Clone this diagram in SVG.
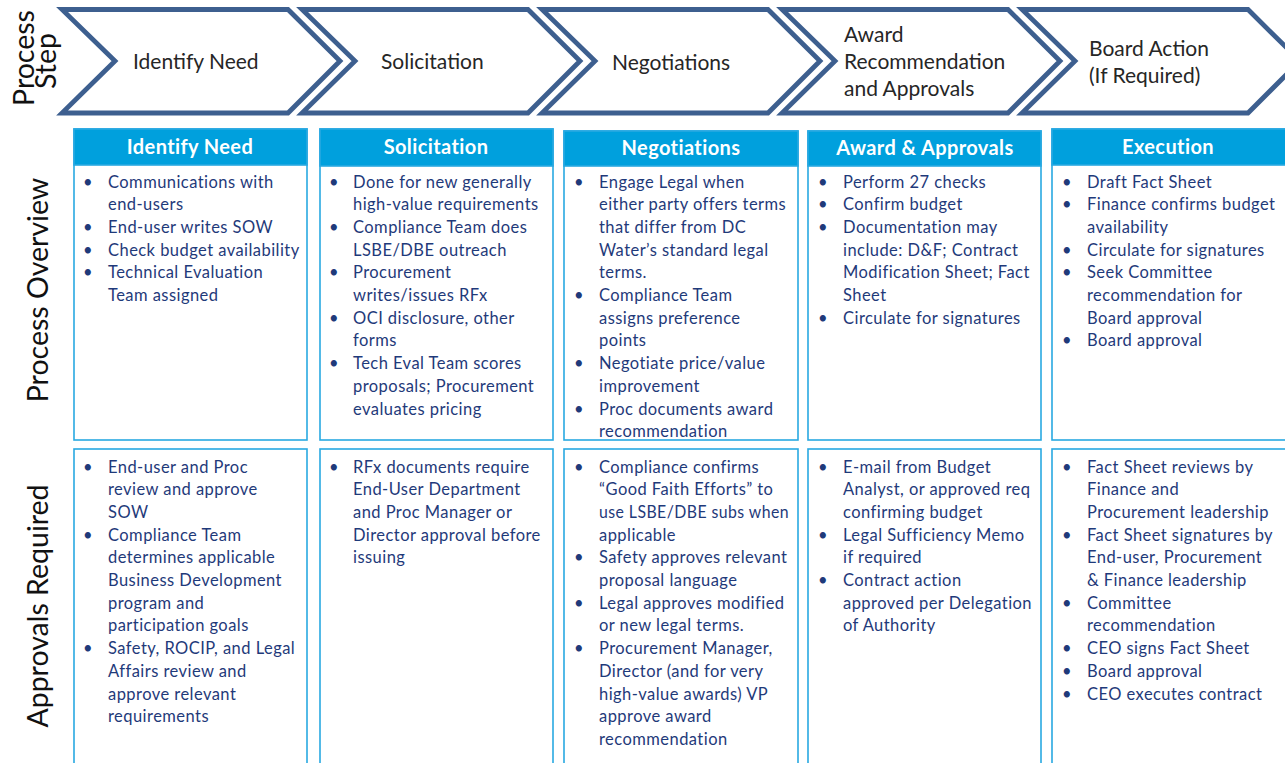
<svg xmlns="http://www.w3.org/2000/svg" width="1285" height="763" viewBox="0 0 1285 763">
<style>
.chev{fill:#ffffff;stroke:#3d5f8f;stroke-width:4.8;stroke-linejoin:miter}
.ct{font-family:Lato,"Liberation Sans",sans-serif;font-size:21px;fill:#262626}
.side{font-family:Lato,"Liberation Sans",sans-serif;font-size:28.5px;fill:#111111;text-anchor:middle}
.box{fill:#ffffff;stroke:#29a9e1;stroke-width:1.6}
.hdr{fill:#00a0dd;stroke:#29a9e1;stroke-width:1.6}
.ht{font-family:Lato,"Liberation Sans",sans-serif;font-size:20px;font-weight:bold;fill:#ffffff;text-anchor:middle;letter-spacing:0.4px}
.b{font-family:Lato,"Liberation Sans",sans-serif;font-size:16.5px;fill:#1f3a7a;letter-spacing:0.45px}
</style>
<rect x="0" y="0" width="1285" height="763" fill="#ffffff"/>

<g id="side-labels">
<text class="side" transform="translate(34,58) rotate(-90)">Process</text>
<text class="side" transform="translate(56,61) rotate(-90)">Step</text>
<text class="side" transform="translate(48,290) rotate(-90)">Process Overview</text>
<text class="side" transform="translate(48,606) rotate(-90)">Approvals Required</text>
</g>

<g id="step-identify">
<polygon class="chev" points="62,9.5 288,9.5 340,61 288,113 62,113 115,61"/>
<text class="ct" x="133" y="69">Identify Need</text>
</g>
<g id="step-solicitation">
<polygon class="chev" points="302,9.5 528,9.5 580,61 528,113 302,113 355,61"/>
<text class="ct" x="381" y="69">Solicitation</text>
</g>
<g id="step-negotiations">
<polygon class="chev" points="542,9.5 768,9.5 820,61 768,113 542,113 595,61"/>
<text class="ct" x="612" y="70">Negotiations</text>
</g>
<g id="step-award">
<polygon class="chev" points="782,9.5 1008,9.5 1060,61 1008,113 782,113 835,61"/>
<text class="ct" x="844" y="42">Award</text>
<text class="ct" x="844" y="69">Recommendation</text>
<text class="ct" x="844" y="96">and Approvals</text>
</g>
<g id="step-board">
<polygon class="chev" points="1022,9.5 1248,9.5 1300,61 1248,113 1022,113 1075,61"/>
<text class="ct" x="1089" y="56">Board Action</text>
<text class="ct" x="1089" y="83">(If Required)</text>
</g>

<g id="connectors"></g>

<!-- Process overview row -->
<g id="ov-identify">
<rect class="box" x="74" y="129" width="233" height="311"/>
<rect class="hdr" x="74" y="129" width="233" height="36"/>
<text class="ht" x="190" y="154">Identify Need</text>
<text class="b" x="83" y="187.5">•</text><text class="b" x="108" y="187.5">Communications with</text>
<text class="b" x="108" y="210.2">end-users</text>
<text class="b" x="83" y="232.9">•</text><text class="b" x="108" y="232.9">End-user writes SOW</text>
<text class="b" x="83" y="255.6">•</text><text class="b" x="108" y="255.6">Check budget availability</text>
<text class="b" x="83" y="278.3">•</text><text class="b" x="108" y="278.3">Technical Evaluation</text>
<text class="b" x="108" y="301">Team assigned</text>
</g>

<g id="ov-solicitation">
<rect class="box" x="320" y="129" width="233" height="311"/>
<rect class="hdr" x="320" y="129" width="233" height="37"/>
<text class="ht" x="436" y="154">Solicitation</text>
<text class="b" x="329" y="187.5">•</text><text class="b" x="353" y="187.5">Done for new generally</text>
<text class="b" x="353" y="210.2">high-value requirements</text>
<text class="b" x="329" y="232.9">•</text><text class="b" x="353" y="232.9">Compliance Team does</text>
<text class="b" x="353" y="255.6">LSBE/DBE outreach</text>
<text class="b" x="329" y="278.3">•</text><text class="b" x="353" y="278.3">Procurement</text>
<text class="b" x="353" y="301">writes/issues RFx</text>
<text class="b" x="329" y="323.7">•</text><text class="b" x="353" y="323.7">OCI disclosure, other</text>
<text class="b" x="353" y="346.4">forms</text>
<text class="b" x="329" y="369.1">•</text><text class="b" x="353" y="369.1">Tech Eval Team scores</text>
<text class="b" x="353" y="391.8">proposals; Procurement</text>
<text class="b" x="353" y="414.5">evaluates pricing</text>
</g>

<g id="ov-negotiations">
<rect class="box" x="564" y="131" width="234" height="309"/>
<rect class="hdr" x="564" y="131" width="234" height="35"/>
<text class="ht" x="681" y="155">Negotiations</text>
<text class="b" x="574" y="187.5">•</text><text class="b" x="599" y="187.5">Engage Legal when</text>
<text class="b" x="599" y="210.2">either party offers terms</text>
<text class="b" x="599" y="232.9">that differ from DC</text>
<text class="b" x="599" y="255.6">Water’s standard legal</text>
<text class="b" x="599" y="278.3">terms.</text>
<text class="b" x="574" y="301">•</text><text class="b" x="599" y="301">Compliance Team</text>
<text class="b" x="599" y="323.7">assigns preference</text>
<text class="b" x="599" y="346.4">points</text>
<text class="b" x="574" y="369.1">•</text><text class="b" x="599" y="369.1">Negotiate price/value</text>
<text class="b" x="599" y="391.8">improvement</text>
<text class="b" x="574" y="414.5">•</text><text class="b" x="599" y="414.5">Proc documents award</text>
<text class="b" x="599" y="437.2">recommendation</text>
</g>

<g id="ov-award">
<rect class="box" x="808" y="131" width="233" height="309"/>
<rect class="hdr" x="808" y="131" width="233" height="35"/>
<text class="ht" x="925" y="155">Award &amp; Approvals</text>
<text class="b" x="818" y="187.5">•</text><text class="b" x="843" y="187.5">Perform 27 checks</text>
<text class="b" x="818" y="210.2">•</text><text class="b" x="843" y="210.2">Confirm budget</text>
<text class="b" x="818" y="232.9">•</text><text class="b" x="843" y="232.9">Documentation may</text>
<text class="b" x="843" y="255.6">include: D&amp;F; Contract</text>
<text class="b" x="843" y="278.3">Modification Sheet; Fact</text>
<text class="b" x="843" y="301">Sheet</text>
<text class="b" x="818" y="323.7">•</text><text class="b" x="843" y="323.7">Circulate for signatures</text>
</g>

<g id="ov-execution">
<rect class="box" x="1052" y="129" width="240" height="311"/>
<rect class="hdr" x="1052" y="129" width="240" height="36"/>
<text class="ht" x="1168" y="154">Execution</text>
<text class="b" x="1062" y="187.5">•</text><text class="b" x="1087" y="187.5">Draft Fact Sheet</text>
<text class="b" x="1062" y="210.2">•</text><text class="b" x="1087" y="210.2">Finance confirms budget</text>
<text class="b" x="1087" y="232.9">availability</text>
<text class="b" x="1062" y="255.6">•</text><text class="b" x="1087" y="255.6">Circulate for signatures</text>
<text class="b" x="1062" y="278.3">•</text><text class="b" x="1087" y="278.3">Seek Committee</text>
<text class="b" x="1087" y="301">recommendation for</text>
<text class="b" x="1087" y="323.7">Board approval</text>
<text class="b" x="1062" y="346.4">•</text><text class="b" x="1087" y="346.4">Board approval</text>
</g>

<!-- Approvals row -->
<g id="ap-identify">
<rect class="box" x="74" y="449" width="233" height="330"/>
<text class="b" x="83" y="472.5">•</text><text class="b" x="108" y="472.5">End-user and Proc</text>
<text class="b" x="108" y="495.2">review and approve</text>
<text class="b" x="108" y="517.9">SOW</text>
<text class="b" x="83" y="540.6">•</text><text class="b" x="108" y="540.6">Compliance Team</text>
<text class="b" x="108" y="563.3">determines applicable</text>
<text class="b" x="108" y="586">Business Development</text>
<text class="b" x="108" y="608.7">program and</text>
<text class="b" x="108" y="631.4">participation goals</text>
<text class="b" x="83" y="654.1">•</text><text class="b" x="108" y="654.1">Safety, ROCIP, and Legal</text>
<text class="b" x="108" y="676.8">Affairs review and</text>
<text class="b" x="108" y="699.5">approve relevant</text>
<text class="b" x="108" y="722.2">requirements</text>
</g>

<g id="ap-solicitation">
<rect class="box" x="320" y="449" width="233" height="330"/>
<text class="b" x="329" y="472.5">•</text><text class="b" x="353" y="472.5">RFx documents require</text>
<text class="b" x="353" y="495.2">End-User Department</text>
<text class="b" x="353" y="517.9">and Proc Manager or</text>
<text class="b" x="353" y="540.6">Director approval before</text>
<text class="b" x="353" y="563.3">issuing</text>
</g>

<g id="ap-negotiations">
<rect class="box" x="564" y="449" width="234" height="330"/>
<text class="b" x="574" y="472.5">•</text><text class="b" x="599" y="472.5">Compliance confirms</text>
<text class="b" x="599" y="495.2">“Good Faith Efforts” to</text>
<text class="b" x="599" y="517.9" textLength="190" lengthAdjust="spacingAndGlyphs">use LSBE/DBE subs when</text>
<text class="b" x="599" y="540.6">applicable</text>
<text class="b" x="574" y="563.3">•</text><text class="b" x="599" y="563.3">Safety approves relevant</text>
<text class="b" x="599" y="586">proposal language</text>
<text class="b" x="574" y="608.7">•</text><text class="b" x="599" y="608.7">Legal approves modified</text>
<text class="b" x="599" y="631.4">or new legal terms.</text>
<text class="b" x="574" y="654.1">•</text><text class="b" x="599" y="654.1">Procurement Manager,</text>
<text class="b" x="599" y="676.8">Director (and for very</text>
<text class="b" x="599" y="699.5">high-value awards) VP</text>
<text class="b" x="599" y="722.2">approve award</text>
<text class="b" x="599" y="744.9">recommendation</text>
</g>

<g id="ap-award">
<rect class="box" x="808" y="449" width="233" height="330"/>
<text class="b" x="818" y="472.5">•</text><text class="b" x="843" y="472.5">E-mail from Budget</text>
<text class="b" x="843" y="495.2">Analyst, or approved req</text>
<text class="b" x="843" y="517.9">confirming budget</text>
<text class="b" x="818" y="540.6">•</text><text class="b" x="843" y="540.6">Legal Sufficiency Memo</text>
<text class="b" x="843" y="563.3">if required</text>
<text class="b" x="818" y="586">•</text><text class="b" x="843" y="586">Contract action</text>
<text class="b" x="843" y="608.7">approved per Delegation</text>
<text class="b" x="843" y="631.4">of Authority</text>
</g>

<g id="ap-execution">
<rect class="box" x="1052" y="449" width="240" height="330"/>
<text class="b" x="1062" y="472.5">•</text><text class="b" x="1087" y="472.5">Fact Sheet reviews by</text>
<text class="b" x="1087" y="495.2">Finance and</text>
<text class="b" x="1087" y="517.9">Procurement leadership</text>
<text class="b" x="1062" y="540.6">•</text><text class="b" x="1087" y="540.6">Fact Sheet signatures by</text>
<text class="b" x="1087" y="563.3">End-user, Procurement</text>
<text class="b" x="1087" y="586">&amp; Finance leadership</text>
<text class="b" x="1062" y="608.7">•</text><text class="b" x="1087" y="608.7">Committee</text>
<text class="b" x="1087" y="631.4">recommendation</text>
<text class="b" x="1062" y="654.1">•</text><text class="b" x="1087" y="654.1">CEO signs Fact Sheet</text>
<text class="b" x="1062" y="676.8">•</text><text class="b" x="1087" y="676.8">Board approval</text>
<text class="b" x="1062" y="699.5">•</text><text class="b" x="1087" y="699.5">CEO executes contract</text>
</g>
</svg>
